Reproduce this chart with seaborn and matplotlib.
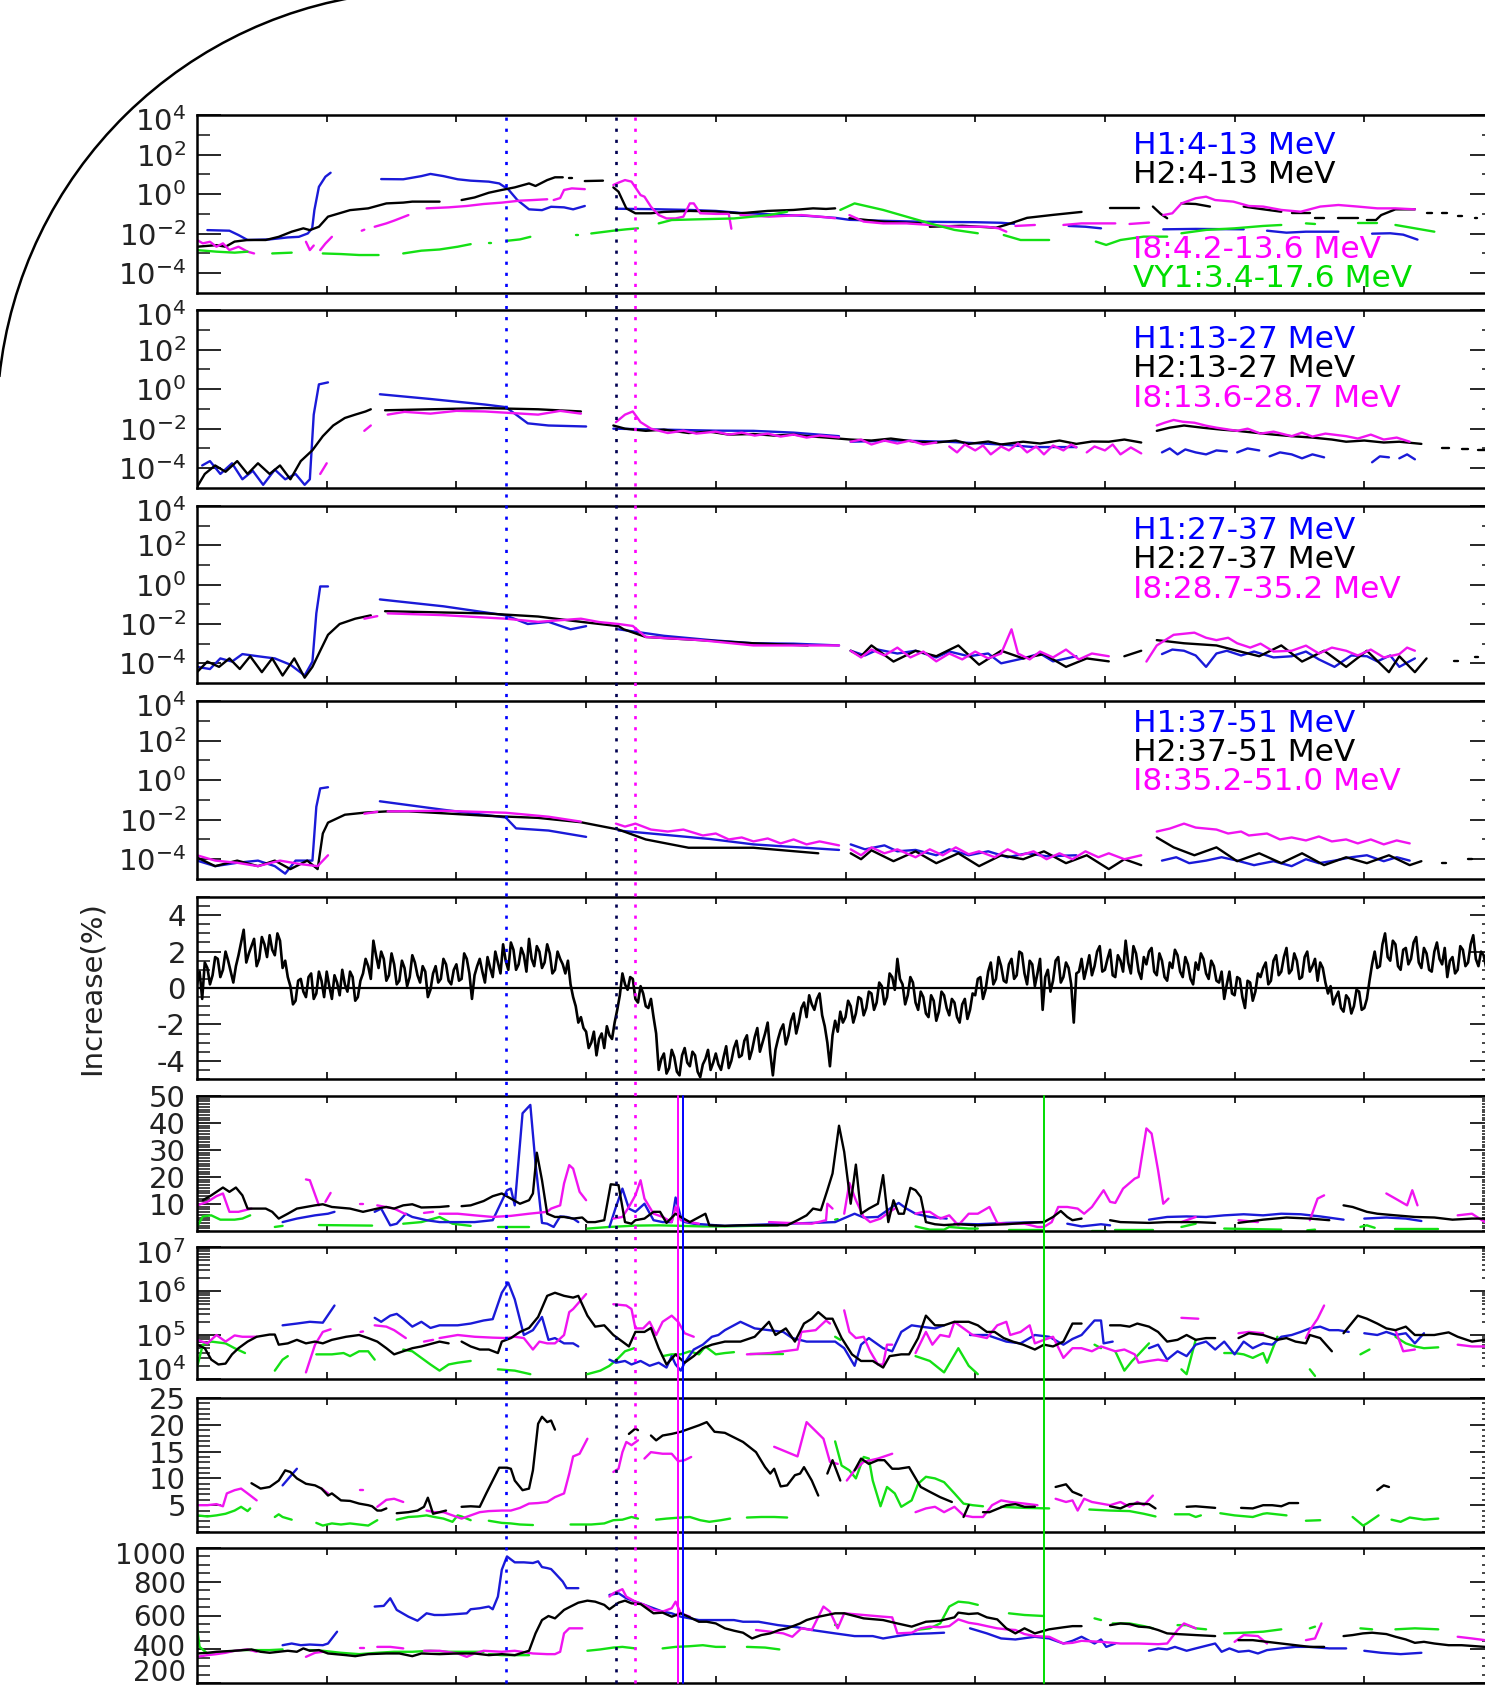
import numpy as np
import matplotlib
matplotlib.use("Agg")
import matplotlib.pyplot as plt
import seaborn as sns
import matplotlib.transforms as mtransforms
from matplotlib.ticker import (FixedLocator, MultipleLocator, LogLocator,
                               NullFormatter, LogFormatterMathtext)
from matplotlib.patches import Arc
from matplotlib.lines import Line2D

N = None  # gap marker in a series

# ---------------- colours ----------------
C_BLUE = "#1a1ad8"
C_BLACK = "#000000"
C_MAG = "#f014f0"
C_GREEN = "#14e014"

# ---------------- panel 1 (log10 flux) 4-13 MeV ----------------
P1_H1 = [(0.08,-1.82),(0.25,-1.85),(0.32,-2.07),(0.39,-2.32),(0.56,-2.29),(0.70,-2.19),(0.785,-2.16),(0.854,-1.99),(0.888,-1.73),(0.905,-0.81),(0.94,0.37),(0.99,0.88),(1.03,1.08),N,
         (1.42,0.76),(1.59,0.75),(1.73,0.91),(1.80,1.02),(1.90,0.91),(2.01,0.75),(2.11,0.68),(2.25,0.63),(2.33,0.54),(2.40,0.24),(2.47,-0.30),(2.56,-0.77),(2.66,-0.81),(2.73,-0.64),(2.83,-0.67),(2.90,-0.77),(2.99,-0.60),N,
         (3.23,-0.74),(3.5,-0.76),(3.8,-0.8),(4.0,-0.85),(4.19,-0.95),(4.5,-1.05),(4.7,-1.1),(4.92,-1.2),(5.03,-1.3),(5.3,-1.35),(5.6,-1.4),(6.0,-1.42),(6.2,-1.45),(6.3,-1.5),N,
         (6.72,-1.61),(6.85,-1.65),(6.97,-1.73),N,(7.45,-1.78),(7.7,-1.76),(8.07,-1.78),N,
         (8.25,-1.85),(8.4,-1.95),(8.55,-1.9),(8.80,-1.9),N,(9.06,-2.0),(9.2,-1.98),(9.3,-2.05),(9.41,-2.3)]
P1_H2 = [(0,-2.66),(0.15,-2.58),(0.22,-2.66),(0.29,-2.4),(0.39,-2.32),(0.53,-2.32),(0.63,-2.16),(0.73,-1.90),(0.82,-1.73),(0.87,-1.82),(0.94,-1.65),(1.01,-1.14),(1.18,-0.81),(1.32,-0.72),(1.46,-0.47),(1.59,-0.43),(1.66,-0.38),(1.87,-0.38),N,
         (2.04,-0.30),(2.14,-0.17),(2.25,0.07),(2.35,0.21),(2.45,0.34),(2.56,0.54),(2.61,0.41),(2.70,0.71),(2.76,0.85),(2.82,0.85),N,(2.87,0.80),(2.89,0.80),N,
         (2.99,0.66),(3.13,0.68),N,
         (3.21,0.34),(3.25,0.12),(3.28,-0.30),(3.31,-0.72),(3.38,-0.97),(3.5,-0.97),(3.6,-0.9),(3.8,-0.85),(4.0,-0.88),(4.19,-0.97),(4.4,-0.85),(4.6,-0.8),(4.75,-0.72),(4.85,-0.75),(4.92,-0.72),N,
         (5.03,-1.22),(5.3,-1.4),(5.58,-1.48),N,(5.65,-1.65),(5.9,-1.6),(6.16,-1.7),(6.24,-1.55),(6.4,-1.2),(6.6,-1.05),(6.82,-0.9),N,
         (7.04,-0.72),(7.26,-0.72),N,(7.37,-0.63),(7.43,-1.0),(7.48,-1.22),N,(7.59,-0.47),(7.7,-0.5),(7.81,-0.63),N,
         (8.07,-0.63),(8.2,-0.75),(8.36,-0.89),N,(8.44,-0.97),(8.58,-0.97),N,(8.62,-1.22),(8.69,-1.22),N,(8.80,-1.22),(8.95,-1.22),N,
         (9.02,-1.31),(9.09,-1.31),(9.13,-1.06),(9.24,-0.77),(9.39,-0.77),N,(9.48,-0.95),(9.52,-0.95),N,(9.6,-0.98),(9.64,-0.98),N,
         (9.72,-1.1),(9.75,-1.1),N,(9.85,-1.2),(9.87,-1.2)]
P1_I8 = [(0,-2.32),(0.045,-2.49),(0.1,-2.41),(0.15,-2.66),(0.2,-2.49),(0.25,-2.83),(0.32,-2.66),(0.39,-2.91),(0.44,-3.0),N,
         (0.84,-2.41),(0.87,-2.83),(0.90,-2.6),N,(0.95,-2.83),(0.99,-2.5),(1.04,-2.16),N,(1.27,-1.85),(1.29,-1.80),N,
         (1.37,-1.65),(1.46,-1.48),(1.52,-1.34),(1.63,-1.06),N,
         (1.77,-0.72),(1.94,-0.67),(2.08,-0.60),(2.21,-0.50),(2.35,-0.43),(2.49,-0.33),(2.59,-0.30),(2.70,-0.26),N,(2.75,-0.3),(2.80,-0.2),(2.83,0.21),(2.89,0.29),(2.99,0.25),N,
         (3.21,0.46),(3.25,0.58),(3.30,0.71),(3.35,0.63),(3.38,0.34),(3.42,-0.05),(3.45,-0.13),(3.50,-0.64),(3.56,-1.06),(3.62,-1.23),(3.69,-1.23),(3.75,-1.14),(3.80,-0.47),(3.83,-0.47),(3.88,-0.97),(4.0,-1.0),(4.1,-1.0),(4.12,-1.75),N,
         (4.19,-1.06),(4.41,-1.14),(4.66,-1.06),(4.85,-1.17),(4.92,-1.22),N,
         (5.03,-1.06),(5.14,-1.39),(5.29,-1.48),(5.47,-1.48),(5.65,-1.56),(5.87,-1.65),(6.09,-1.65),(6.18,-1.73),(6.24,-1.90),N,(6.31,-1.61),(6.46,-1.56),N,
         (6.68,-1.56),(6.82,-1.48),(7.08,-1.48),N,(7.19,-1.51),(7.34,-1.44),N,
         (7.45,-1.06),(7.52,-0.97),(7.59,-0.47),(7.70,-0.21),(7.78,-0.13),(7.85,-0.30),(7.99,-0.38),(8.11,-0.60),(8.22,-0.63),(8.36,-0.80),(8.51,-0.89),(8.66,-0.63),(8.80,-0.55),(8.95,-0.63),(9.10,-0.72),(9.24,-0.72),(9.39,-0.77)]
P1_VY1 = [(0,-2.83),(0.15,-2.91),(0.29,-2.96),(0.39,-2.91),N,(0.58,-3.0),(0.73,-2.96),N,(0.97,-3.0),(1.11,-3.03),(1.25,-3.08),(1.40,-3.08),N,
          (1.59,-3.0),(1.73,-2.86),(1.87,-2.80),(2.01,-2.66),(2.11,-2.53),N,(2.25,-2.49),(2.27,-2.49),N,(2.39,-2.36),(2.49,-2.29),(2.57,-2.16),N,
          (2.92,-2.07),(2.94,-2.07),N,(3.04,-1.99),(3.21,-1.85),(3.31,-1.78),(3.40,-1.73),N,
          (3.56,-1.48),(3.66,-1.31),(3.83,-1.28),(4.14,-1.23),(4.41,-1.06),(4.55,-0.89),N,
          (4.96,-0.80),(5.07,-0.47),(5.29,-0.80),(5.47,-1.14),(5.65,-1.48),(5.84,-1.81),(6.02,-1.98),N,
          (6.22,-2.07),(6.35,-2.32),(6.57,-2.32),N,(6.93,-2.40),(7.01,-2.57),(7.12,-2.32),(7.30,-2.15),(7.48,-2.15),N,
          (7.59,-1.98),(7.78,-1.81),(8.0,-1.73),(8.22,-1.61),(8.36,-1.56),N,(8.55,-1.48),(8.62,-1.51),N,
          (8.95,-1.48),(9.10,-1.48),N,(9.24,-1.56),(9.39,-1.73),(9.54,-1.90)]

# ---------------- panel 2 (log10 flux) 13-27 MeV ----------------
P2_H1 = [(0.04,-3.86),(0.10,-3.64),(0.18,-4.29),(0.27,-3.75),(0.35,-4.56),(0.43,-4.13),(0.51,-4.84),(0.60,-4.07),(0.68,-4.56),(0.76,-4.29),(0.83,-4.84),(0.87,-4.56),(0.90,-1.29),(0.94,0.24),(1.01,0.34),N,
         (1.41,-0.26),(1.80,-0.5),(2.22,-0.78),(2.38,-0.91),(2.46,-1.29),(2.55,-1.73),(2.71,-1.84),(3.0,-1.89),N,
         (3.21,-2.0),(3.6,-2.05),(4.0,-2.1),(4.29,-2.11),(4.6,-2.2),(4.95,-2.38),N,(5.04,-2.66),(5.4,-2.6),(5.78,-2.66),(6.2,-2.8),(6.45,-2.93),(6.78,-2.93),N,
         (7.44,-3.2),(7.5,-3.0),(7.56,-3.3),(7.62,-3.05),(7.7,-3.2),(7.78,-3.3),(7.86,-3.1),(7.94,-3.15),N,(8.02,-3.2),(8.1,-3.0),(8.19,-3.1),N,
         (8.27,-3.4),(8.35,-3.2),(8.44,-3.3),(8.52,-3.5),(8.6,-3.3),(8.69,-3.45),N,(9.06,-3.7),(9.12,-3.4),(9.19,-3.45),N,(9.27,-3.5),(9.33,-3.3),(9.39,-3.55)]
P2_H2 = [(0,-4.95),(0.06,-4.29),(0.14,-3.86),(0.22,-4.18),(0.31,-3.64),(0.39,-4.29),(0.47,-3.75),(0.56,-4.29),(0.64,-3.86),(0.72,-4.56),(0.80,-3.64),(0.89,-3.09),(0.97,-2.38),(1.05,-1.84),(1.14,-1.46),(1.22,-1.29),(1.30,-1.13),(1.34,-1.02),N,
         (1.45,-1.07),(1.80,-1.02),(2.22,-0.96),(2.63,-1.02),(2.96,-1.13),N,
         (3.21,-1.84),(3.3,-2.0),(3.46,-2.11),(3.6,-2.05),(3.79,-2.22),(3.95,-2.15),(4.1,-2.3),(4.29,-2.27),(4.45,-2.35),(4.6,-2.3),(4.71,-2.38),(4.85,-2.45),(5.04,-2.55),(5.2,-2.6),(5.35,-2.5),(5.54,-2.66),(5.7,-2.7),(5.85,-2.6),(5.95,-2.77),(6.1,-2.65),(6.2,-2.8),(6.37,-2.66),(6.5,-2.75),(6.65,-2.6),(6.78,-2.77),(6.9,-2.65),(7.03,-2.66),(7.15,-2.55),(7.28,-2.7),N,
         (7.40,-2.11),(7.5,-1.95),(7.61,-1.84),(7.75,-1.95),(7.9,-2.05),(8.02,-2.11),(8.15,-2.2),(8.3,-2.3),(8.44,-2.38),(8.6,-2.45),(8.75,-2.55),(8.86,-2.66),(9.0,-2.6),(9.15,-2.7),(9.27,-2.66),(9.44,-2.77),N,
         (9.6,-3.0),(9.65,-3.0),N,(9.75,-3.05),(9.8,-3.05),N,(9.88,-3.1),(9.93,-3.1)]
P2_I8 = [(0.95,-4.29),(1.0,-3.75),N,(1.29,-2.11),(1.34,-1.84),N,
         (1.47,-1.29),(1.6,-1.15),(1.80,-1.24),(2.0,-1.1),(2.22,-1.13),(2.4,-1.2),(2.63,-1.29),(2.8,-1.1),(2.96,-1.24),N,
         (3.23,-1.67),(3.30,-1.29),(3.36,-1.13),(3.42,-1.67),(3.50,-2.0),(3.63,-2.22),(3.75,-2.1),(3.85,-2.25),(4.0,-2.15),(4.1,-2.3),(4.2,-2.2),(4.3,-2.35),(4.4,-2.25),(4.5,-2.4),(4.6,-2.3),(4.7,-2.45),(4.8,-2.35),(4.95,-2.44),N,
         (5.04,-2.66),(5.12,-2.55),(5.2,-2.8),(5.3,-2.6),(5.4,-2.75),(5.5,-2.6),(5.6,-2.8),(5.7,-2.7),N,
         (5.8,-2.9),(5.86,-3.2),(5.92,-2.8),(6.0,-3.1),(6.06,-2.85),(6.12,-3.3),(6.2,-2.9),(6.26,-3.1),(6.33,-2.75),(6.4,-3.2),(6.47,-2.9),(6.53,-3.3),(6.6,-2.85),(6.68,-3.1),(6.74,-2.8),(6.78,-2.95),N,
         (6.86,-3.2),(6.92,-2.9),(7.0,-3.1),(7.06,-2.8),(7.12,-3.3),(7.2,-2.95),(7.28,-3.25),N,
         (7.40,-1.84),(7.46,-1.7),(7.53,-1.56),(7.6,-1.65),(7.69,-1.7),(7.78,-1.85),(7.86,-1.95),(8.02,-2.11),(8.1,-2.0),(8.2,-2.25),(8.3,-2.15),(8.44,-2.38),(8.52,-2.2),(8.6,-2.4),(8.7,-2.25),(8.86,-2.38),(8.95,-2.5),(9.05,-2.3),(9.15,-2.55),(9.25,-2.45),(9.35,-2.66)]

# ---------------- panel 3 (log10 flux) 27-37 MeV ----------------
P3_H1 = [(0,-4.18),(0.10,-4.29),(0.18,-3.75),(0.27,-3.91),(0.35,-3.53),(0.47,-3.64),(0.60,-3.75),(0.72,-4.07),(0.83,-4.62),(0.89,-3.91),(0.92,-1.46),(0.95,-0.09),(1.01,-0.09),N,
         (1.41,-0.75),(1.9,-1.1),(2.38,-1.56),(2.55,-2.0),(2.71,-1.89),(2.88,-2.27),(3.0,-2.11),N,
         (3.25,-2.27),(3.6,-2.6),(3.96,-2.82),(4.29,-2.98),(4.6,-3.0),(4.95,-3.09),N,
         (5.04,-3.36),(5.15,-3.6),(5.25,-3.3),(5.4,-3.5),(5.54,-3.36),(5.7,-3.7),(5.8,-3.4),(5.95,-3.64),(6.1,-3.5),(6.2,-4.0),(6.37,-3.75),(6.5,-3.5),(6.6,-3.9),(6.78,-3.64),N,
         (7.44,-3.53),(7.52,-3.3),(7.61,-3.36),(7.7,-3.6),(7.78,-4.18),(7.86,-3.5),(7.94,-3.36),(8.05,-3.6),(8.15,-3.4),(8.3,-3.7),(8.44,-3.64),(8.55,-3.4),(8.65,-3.8),(8.77,-4.18),(8.9,-3.6),(9.02,-3.64),(9.1,-3.9),(9.2,-3.6),(9.27,-4.18),(9.39,-3.75)]
P3_H2 = [(0,-4.45),(0.08,-3.91),(0.17,-4.18),(0.25,-3.75),(0.33,-4.29),(0.41,-3.64),(0.50,-4.45),(0.58,-3.75),(0.66,-4.62),(0.75,-3.75),(0.83,-4.73),(0.89,-4.18),(0.95,-3.36),(1.01,-2.55),(1.10,-2.0),(1.22,-1.73),(1.34,-1.56),N,
         (1.45,-1.35),(2.22,-1.46),(2.63,-1.62),(2.96,-1.89),(3.25,-2.11),(3.29,-2.27),(3.46,-2.66),(3.88,-2.82),(4.29,-2.98),(4.71,-3.09),N,
         (5.04,-3.36),(5.12,-3.64),(5.20,-3.09),(5.37,-3.91),(5.54,-3.36),(5.70,-3.64),(5.87,-3.09),(6.03,-4.07),(6.20,-3.36),(6.37,-3.75),(6.53,-3.53),(6.70,-4.18),(6.86,-3.75),(7.03,-3.9),N,
         (7.15,-3.64),(7.28,-3.36),N,
         (7.40,-2.82),(7.61,-2.98),(7.86,-3.09),(8.02,-3.36),(8.19,-3.64),(8.36,-3.09),(8.52,-3.91),(8.69,-3.36),(8.86,-4.18),(9.02,-3.36),(9.19,-4.45),(9.27,-3.64),(9.39,-4.45),(9.48,-3.75),N,
         (9.69,-3.9),(9.72,-3.9),N,(9.85,-3.7),(9.88,-3.7)]
P3_I8 = [(1.29,-1.73),(1.39,-1.6),N,
         (1.47,-1.46),(1.9,-1.55),(2.38,-1.73),(2.63,-1.89),(2.96,-1.73),(3.1,-1.9),(3.25,-2.0),(3.36,-2.1),(3.46,-2.66),(3.88,-2.82),(4.29,-3.09),(4.95,-3.09),N,
         (5.04,-3.36),(5.12,-3.7),(5.2,-3.3),(5.3,-3.6),(5.4,-3.2),(5.5,-3.7),(5.6,-3.4),(5.7,-3.9),(5.8,-3.5),(5.9,-3.8),(6.0,-3.4),(6.1,-3.75),(6.2,-3.5),(6.28,-2.27),(6.33,-3.5),(6.42,-3.8),(6.5,-3.4),(6.6,-3.7),(6.7,-3.3),(6.8,-3.8),(6.9,-3.5),(7.03,-3.64),N,
         (7.32,-3.91),(7.40,-3.09),(7.53,-2.55),(7.69,-2.44),(7.78,-2.7),(7.86,-2.82),(7.95,-2.7),(8.02,-2.98),(8.12,-3.2),(8.2,-3.0),(8.3,-3.4),(8.44,-3.36),(8.55,-3.1),(8.65,-3.5),(8.75,-3.2),(8.86,-3.36),(8.95,-3.6),(9.05,-3.3),(9.15,-3.7),(9.27,-3.53),(9.33,-3.2),(9.39,-3.36)]

# ---------------- panel 4 (log10 flux) 37-51 MeV ----------------
P4_H1 = [(0,-4.07),(0.14,-4.35),(0.31,-4.18),(0.47,-4.07),(0.60,-4.35),(0.68,-4.73),(0.76,-4.07),(0.89,-4.07),(0.92,-1.35),(0.95,-0.42),(1.01,-0.36),N,
         (1.41,-1.07),(1.9,-1.5),(2.38,-1.89),(2.46,-2.44),(2.71,-2.55),(3.0,-2.87),N,
         (3.25,-2.55),(3.96,-2.98),(4.29,-3.25),(4.95,-3.53),N,
         (5.04,-3.25),(5.15,-3.5),(5.3,-3.3),(5.4,-3.6),(5.54,-3.53),(5.7,-3.8),(5.8,-3.5),(5.95,-3.8),(6.1,-3.6),(6.25,-3.9),(6.4,-3.7),(6.55,-3.85),(6.78,-3.8),N,
         (7.44,-4.07),(7.55,-3.9),(7.65,-4.2),(7.78,-4.07),(7.9,-3.9),(8.02,-4.07),(8.15,-4.3),(8.3,-4.1),(8.44,-4.35),(8.55,-4.0),(8.65,-4.2),(8.77,-4.07),(8.9,-3.9),(9.02,-3.8),(9.15,-4.1),(9.25,-3.9),(9.35,-4.07)]
P4_H2 = [(0,-3.91),(0.14,-4.35),(0.31,-4.07),(0.47,-4.35),(0.60,-4.07),(0.72,-4.5),(0.85,-4.07),(0.93,-4.5),(0.97,-2.7),(1.01,-2.15),(1.14,-1.75),(1.30,-1.64),(1.47,-1.58),(1.63,-1.58),(1.80,-1.64),(2.22,-1.8),(2.63,-1.91),(2.96,-2.13),(3.25,-2.5),(3.46,-3.0),(3.79,-3.42),(4.29,-3.42),(4.79,-3.7),N,
         (5.04,-3.7),(5.12,-4.0),(5.20,-3.55),(5.37,-4.1),(5.54,-3.6),(5.70,-4.2),(5.87,-3.7),(6.03,-4.35),(6.20,-3.8),(6.37,-4.0),(6.53,-3.6),(6.70,-4.2),(6.86,-3.8),(7.03,-4.5),(7.15,-4.0),(7.28,-4.3),N,
         (7.40,-2.9),(7.53,-3.4),(7.69,-3.8),(7.86,-3.4),(8.02,-4.1),(8.19,-3.7),(8.36,-4.2),(8.52,-3.7),(8.69,-4.3),(8.86,-3.9),(9.02,-4.2),(9.19,-3.8),(9.35,-4.3),(9.44,-4.1),N,
         (9.6,-4.2),(9.63,-4.2),N,(9.8,-4.0),(9.83,-4.0)]
P4_I8 = [(0,-3.8),(0.14,-4.07),(0.31,-4.18),(0.47,-4.35),(0.64,-4.07),(0.80,-4.25),(0.93,-4.35),(1.01,-3.8),N,
         (1.29,-1.7),(1.39,-1.6),N,(1.47,-1.58),(1.9,-1.55),(2.38,-1.65),(2.71,-1.85),(2.96,-2.1),N,
         (3.23,-2.2),(3.3,-2.35),(3.38,-2.2),(3.5,-2.5),(3.63,-2.6),(3.75,-2.5),(3.9,-2.8),(4.0,-2.7),(4.1,-3.0),(4.2,-2.9),(4.29,-3.1),(4.4,-2.95),(4.5,-3.2),(4.6,-3.0),(4.7,-3.25),(4.8,-3.1),(4.95,-3.3),N,
         (5.04,-3.5),(5.12,-3.8),(5.2,-3.4),(5.3,-3.7),(5.4,-3.5),(5.54,-3.9),(5.65,-3.5),(5.75,-3.8),(5.85,-3.4),(5.95,-3.75),(6.03,-3.6),(6.15,-3.9),(6.25,-3.5),(6.35,-3.8),(6.45,-3.6),(6.55,-4.0),(6.65,-3.7),(6.75,-4.0),(6.85,-3.6),(6.95,-3.9),(7.03,-3.7),(7.15,-4.0),(7.28,-3.8),N,
         (7.40,-2.6),(7.5,-2.45),(7.61,-2.2),(7.7,-2.4),(7.86,-2.5),(7.95,-2.7),(8.05,-2.6),(8.11,-2.8),(8.25,-2.7),(8.35,-3.0),(8.44,-2.9),(8.55,-3.05),(8.65,-2.85),(8.75,-3.1),(8.86,-3.0),(8.95,-3.2),(9.05,-3.0),(9.15,-3.25),(9.25,-3.05),(9.35,-3.2)]

# ---------------- panel 5: cosmic-ray increase (%) ----------------
CR_T0 = 0.0
CR_DT = 0.02
CR_INCREASE = [
    0.2, 0.9, -0.6, 1.4, 1.1, 0.2, 0.7, 1.7, 1.6, 0.6, 1.0, 2.0, 1.5, 0.9, 0.3, 1.2, 1.8, 2.5, 3.2, 1.4, 1.9, 2.3, 2.7, 1.2, 1.6, 2.8, 2.4, 1.7, 2.9, 2.1, 1.8, 3.0, 2.6, 1.1, 1.5, 0.6, 0.1, -0.9, -0.7, 0.4, 0.5, -0.2, -0.5, 0.6, 0.8, -0.6, -0.3, 0.9, 0.4, -0.5,
    0.9, 0.1, -0.6, 0.7, 0.3, -0.4, 1.0, 0.2, -0.2, 0.9, 0.6, -0.7, -0.5, 0.4, 0.8, 1.6, 1.2, 0.5, 2.6, 1.8, 1.1, 2.0, 1.6, 0.4, 0.7, 1.9, 1.3, 0.2, 0.4, 1.5, 1.1, 0.1, 0.6, 1.8, 1.4, 0.7, 0.3, 1.2, 0.9, -0.5, -0.1, 0.8, 1.2, 0.3, 0.5, 1.6, 1.3, 0.4, 0.2, 1.0,
    1.3, 0.4, 0.5, 1.9, 1.6, 0.8, -0.6, 0.7, 1.2, 1.6, 0.9, 0.3, 1.7, 1.1, 0.6, 2.0, 1.4, 0.8, 2.4, 1.5, 1.0, 2.5, 2.1, 1.0, 1.3, 2.2, 1.8, 0.9, 2.7, 1.6, 1.2, 2.3, 2.0, 1.1, 1.4, 2.4, 1.9, 0.8, 1.0, 2.0, 1.6, 1.3, 0.8, 1.5, 0.2, -0.5, -1.0, -1.9, -1.6, -2.2,
    -2.4, -3.3, -3.0, -2.4, -3.7, -2.8, -2.5, -3.3, -2.1, -2.6, -2.8, -1.9, -1.2, -0.4, 0.8, 0.2, -0.1, 0.6, 0.5, -0.6, -0.8, 0.1, -0.3, -1.0, -1.1, -0.6, -1.6, -2.5, -4.5, -3.9, -3.6, -4.7, -4.4, -3.4, -3.8, -4.6, -4.8, -3.7, -3.3, -4.1, -4.3, -3.5, -3.7, -4.6, -4.9, -4.2, -3.9, -3.4, -4.5, -4.1,
    -3.6, -4.2, -4.5, -3.8, -3.2, -4.4, -4.0, -3.3, -2.9, -3.8, -3.7, -2.9, -2.6, -3.9, -3.4, -2.7, -2.2, -3.5, -3.0, -2.5, -1.9, -3.6, -4.8, -3.4, -2.8, -2.3, -2.0, -3.1, -2.6, -1.8, -1.4, -2.5, -1.9, -1.1, -0.8, -1.6, -0.4, -0.9, -1.2, -0.6, -0.3, -1.5, -2.1, -3.0, -4.3, -2.6, -1.8, -2.4, -1.3, -1.9,
    -1.6, -0.7, -1.0, -1.9, -1.4, -0.5, -0.6, -1.5, -1.1, -0.2, -0.3, -1.2, -0.8, 0.3, 0.1, -0.9, -0.5, 0.8, 0.6, -0.1, 1.6, 0.5, 0.2, -0.9, -0.4, 0.6, 0.3, -0.8, -1.2, -0.2, -0.5, -1.4, -1.6, -0.4, -0.7, -1.8, -1.3, -0.2, -0.4, -1.1, -1.5, -0.6, -0.8, -1.6, -1.9, -0.9, -0.6, -1.7, -1.2, -0.3,
    -0.4, 0.5, 0.6, -0.6, -0.1, 0.9, 1.4, 0.2, 0.5, 1.7, 1.2, 0.4, 0.3, 1.3, 1.6, 0.5, 0.7, 2.0, 1.9, 0.8, 0.2, 1.5, 1.3, 0.1, 0.8, 1.6, -1.2, 0.6, 1.0, -0.2, 0.4, 1.5, 1.7, 0.3, 0.6, 1.4, 1.1, 0.2, -1.9, 0.8, 0.9, 1.6, 0.5, 1.1, 1.8, 0.7, 1.2, 2.0, 2.3, 0.9,
    1.0, 1.6, 2.1, 0.7, 0.6, 1.8, 1.5, 0.9, 2.6, 1.4, 0.8, 2.3, 1.9, 0.9, 0.5, 1.7, 1.3, 2.0, 2.2, 0.9, 0.7, 1.9, 1.5, 0.6, 0.4, 1.4, 1.1, 2.1, 1.8, 0.9, 0.6, 1.7, 1.3, 0.5, 0.2, 1.4, 1.0, 1.9, 1.6, 0.8, 0.5, 1.5, 1.2, 0.4, 0.3, 0.9, -0.6, 0.2, 0.9, -0.3,
    -0.4, 0.6, 0.5, -0.5, -1.1, 0.4, 0.3, -0.7, -0.2, 0.8, 0.6, 1.1, 1.4, 0.2, 0.4, 1.5, 1.8, 0.7, 0.9, 1.7, 2.2, 0.8, 1.0, 1.9, 1.5, 0.5, 0.6, 1.7, 2.0, 0.9, 1.2, 1.6, 0.4, 1.4, 1.1, 0.3, -0.3, 0.1, -0.9, -0.5, -0.2, -1.1, -1.3, -0.4, -0.6, -1.4, -1.0, -0.1, -0.2, -1.2,
    -1.1, -0.6, 0.4, 1.3, 2.0, 1.1, 1.2, 2.4, 3.0, 1.7, 1.5, 2.6, 2.4, 1.2, 1.0, 2.1, 2.2, 1.3, 1.6, 2.5, 2.8, 1.4, 1.1, 2.2, 1.9, 1.0, 0.9, 2.0, 2.5, 1.6, 1.3, 2.2, 0.6, 1.5, 1.7, 0.8, 1.0, 2.3, 2.1, 1.2, 1.4, 2.4, 2.9, 1.6, 1.2, 2.0, 1.8, 1.1, 1.4, 2.2,
    1.5]

# ---------------- panel 6 (0-50) ----------------
P6_BLACK = [(0.045,11.4),(0.11,13.2),(0.20,16.1),(0.25,14.5),(0.30,16.1),(0.35,13.2),(0.39,8.3),(0.46,8.3),(0.53,8.3),(0.58,7.1),(0.63,4.6),(0.70,6.4),(0.77,8.3),(0.84,8.9),(0.91,9.5),(0.97,9.9),(1.04,8.9),(1.18,8.3),(1.28,7.1),(1.39,8.3),(1.46,8.9),(1.52,8.3),(1.59,9.5),(1.66,9.9),(1.73,8.7),(1.87,8.9),(1.94,9.2),N,
            (2.04,9.2),(2.11,9.5),(2.21,11.1),(2.28,12.9),(2.35,13.9),(2.42,12.0),(2.49,10.1),(2.56,11.4),(2.59,13.9),(2.62,29.0),(2.66,18.8),(2.70,6.4),(2.76,5.2),(2.83,5.2),(2.90,4.6),(2.97,5.0),(3.01,3.3),(3.07,3.3),(3.14,4.0),(3.19,17.3),(3.25,17.0),(3.30,3.3),(3.35,2.7),(3.38,4.0),(3.45,4.6),(3.52,7.1),(3.57,7.1),(3.62,3.0),(3.69,6.4),(3.73,5.2),(3.80,3.3),(3.92,6.4),(3.95,2.1),(4.07,1.9),
            (4.19,2.1),(4.55,2.1),(4.63,4.0),(4.70,5.8),(4.75,8.3),(4.81,7.7),(4.86,15.1),(4.90,21.3),(4.95,39.0),(4.99,29.3),(5.04,10.1),(5.08,24.6),(5.12,6.4),(5.18,8.3),(5.25,10.1),(5.29,20.7),(5.33,3.3),(5.37,11.4),(5.41,6.4),(5.45,6.4),(5.50,16.0),(5.54,15.1),(5.58,12.6),(5.62,3.3),(5.69,2.5),(5.76,2.2),(5.87,2.5),(6.02,2.1),(6.24,2.5),(6.38,3.0),(6.53,3.3),(6.60,5.2),(6.66,7.4),(6.71,5.2),(6.75,4.0),(6.82,4.6),N,
            (7.04,4.0),(7.12,3.3),(7.34,3.0),(7.48,3.3),(7.70,3.3),(7.85,3.0),N,(8.03,3.0),(8.22,4.2),(8.40,5.0),(8.58,4.6),(8.73,4.0),N,
            (8.84,9.5),(8.91,8.9),(9.02,7.1),(9.10,6.4),(9.24,5.8),(9.39,5.2),(9.54,5.0),(9.68,4.2),(9.83,4.6),(10.0,4.6)]
P6_BLUE = [(0.66,3.3),(0.77,4.6),(0.91,5.8),(1.01,6.4),(1.06,7.1),N,
           (1.37,7.1),(1.42,8.3),(1.49,2.1),(1.54,2.7),(1.61,6.4),(1.66,5.2),(1.77,4.0),(1.87,3.3),(2.01,3.3),(2.14,3.3),(2.28,4.0),(2.39,15.1),(2.42,15.7),(2.45,9.5),(2.51,43.6),(2.57,46.7),(2.61,25.0),(2.66,3.0),(2.70,2.7),(2.75,1.5),(2.80,5.4),(2.85,5.2),(2.90,4.6),(2.94,3.3),N,
           (3.18,1.5),(3.23,8.9),(3.28,15.7),(3.33,8.3),(3.38,7.1),(3.45,10.1),(3.52,4.0),(3.59,3.3),(3.66,3.3),(3.69,12.4),(3.73,5.2),(3.76,3.3),(3.83,2.7),(4.07,1.9),
           (4.19,2.1),(4.55,2.7),(4.74,3.0),(4.92,3.3),(5.07,6.4),(5.14,5.0),(5.25,5.2),(5.36,8.9),(5.41,10.4),(5.47,8.3),(5.54,6.4),(5.65,5.2),(5.78,4.6),N,
           (5.84,2.7),(6.02,2.5),(6.24,3.0),(6.53,3.3),N,(6.71,2.7),(6.82,1.7),(6.97,2.5),(7.04,2.1),N,
           (7.34,4.2),(7.48,5.2),(7.63,5.4),(7.78,5.2),(7.92,5.8),(8.07,6.2),(8.22,5.8),(8.36,6.4),(8.51,6.2),(8.66,5.4),(8.84,4.2),N,
           (9.0,4.6),(9.17,5.0),(9.32,4.6),(9.44,3.7)]
P6_MAG = [(0,9.5),(0.08,10.8),(0.15,12.9),(0.20,13.9),(0.25,7.1),(0.32,7.1),(0.42,8.3),N,
          (0.84,19.1),(0.87,18.8),(0.94,9.5),N,(0.99,10.8),(1.03,14.1),N,(1.26,10.1),(1.28,10.1),N,
          (1.39,9.5),(1.52,8.3),(1.61,6.2),N,(1.75,6.7),(1.82,7.1),N,
          (1.87,6.4),(2.01,6.4),(2.14,5.8),(2.28,5.2),(2.42,5.6),(2.56,6.4),(2.70,7.1),(2.73,8.3),(2.80,9.5),(2.83,17.6),(2.87,24.4),(2.90,23.1),(2.95,14.5),(3.0,11.4),N,
          (3.21,4.6),(3.28,5.2),(3.33,8.9),(3.38,13.2),(3.42,18.8),(3.45,12.0),(3.52,6.4),(3.59,5.2),(3.66,3.3),(3.69,8.9),(3.73,4.0),(3.80,3.3),(3.87,2.7),N,
          (4.41,3.3),(4.55,3.0),(4.74,2.7),(4.85,4.0),(4.86,10.1),(4.90,8.3),N,
          (4.99,6.4),(5.03,17.8),(5.08,11.4),(5.14,5.2),(5.19,3.3),(5.27,4.6),(5.34,7.1),(5.38,8.3),N,
          (5.54,6.4),(5.60,7.1),(5.65,7.1),(5.73,4.6),(5.80,5.8),(5.87,2.1),(5.95,6.4),(6.02,6.4),(6.11,8.9),(6.17,3.0),(6.24,2.7),(6.38,2.7),(6.48,1.5),(6.53,1.5),(6.59,3.3),(6.64,8.9),(6.71,8.9),(6.79,8.3),(6.84,6.4),(6.90,8.9),(6.99,15.1),(7.04,10.8),(7.08,10.4),(7.14,15.7),(7.23,19.4),(7.26,20.0),(7.32,38.0),(7.36,36.1),(7.41,22.5),(7.45,10.1),(7.49,12.0),N,
          (7.59,3.3),(7.70,5.2),N,(8.03,4.0),(8.18,3.3),N,(8.58,4.0),(8.64,12.0),(8.69,13.2),N,
          (9.17,13.9),(9.24,12.0),(9.33,9.5),(9.37,15.1),(9.41,9.5),N,(9.72,5.8),(9.83,6.4),(9.93,3.3)]
P6_GREEN = [(0,1.5),(0.045,5.4),(0.11,5.8),(0.18,4.2),(0.29,4.2),(0.35,4.6),(0.41,5.8),N,(0.60,1.5),(0.66,1.9),N,
            (0.94,2.2),(1.35,2.0),N,(1.59,2.7),(1.73,3.3),(1.87,5.2),(1.97,2.7),(2.11,1.9),N,(2.32,1.5),(2.56,1.5),N,
            (3.01,0.9),(3.18,1.5),(3.38,2.0),(3.56,2.1),(3.73,1.9),(3.90,1.7),(4.07,1.7),(4.26,1.9),(4.48,2.1),N,
            (4.92,4.2),(4.94,4.4),N,(5.54,1.7),(5.65,0.5),(5.76,0.5),(5.80,1.5),(5.95,0.9),(6.02,0.9),N,
            (6.26,0.5),(6.53,0.5),N,(6.90,0.1),(7.01,0.1),N,(7.08,0.25),(7.37,0.25),N,(7.59,1.5),(7.70,2.7),N,
            (7.92,0.9),(8.36,0.5),N,(8.56,0.25),(8.62,0.5),N,(8.97,1.5),(9.02,2.1),(9.08,1.2),N,(9.24,0.9),(9.57,0.9)]

# ---------------- panel 7 (log10, 1e4-1e7) ----------------
P7_BLACK = [(0,4.78),(0.06,4.70),(0.11,4.44),(0.165,4.33),(0.22,4.35),(0.27,4.56),(0.32,4.70),(0.39,4.85),(0.46,4.96),(0.56,5.01),(0.60,5.01),(0.63,4.78),(0.70,4.81),(0.77,4.89),(0.84,4.81),(0.91,4.85),(0.97,4.81),(1.04,4.89),(1.15,4.96),(1.25,5.0),(1.32,4.93),(1.39,4.85),(1.46,4.70),(1.52,4.56),(1.59,4.63),(1.66,4.70),(1.73,4.74),(1.87,4.85),(1.94,4.81),N,
            (2.04,4.85),(2.11,4.74),(2.18,4.67),(2.25,4.67),(2.32,4.59),(2.35,4.85),(2.42,4.93),(2.49,5.07),(2.56,5.16),(2.63,5.41),(2.70,5.89),(2.76,5.96),(2.83,5.89),(2.90,5.85),(2.94,5.89),(3.01,5.44),(3.07,5.19),(3.14,5.22),(3.21,5.0),(3.28,4.85),(3.33,4.74),(3.38,5.07),(3.45,5.07),(3.50,5.16),(3.56,4.70),(3.62,4.33),(3.69,4.56),(3.76,4.37),(3.83,4.52),(3.90,4.70),(3.97,4.78),(4.07,4.85),
            (4.19,4.85),(4.30,4.96),(4.41,5.30),(4.46,5.0),(4.54,5.15),(4.61,4.85),(4.68,5.26),(4.74,5.37),(4.79,5.52),(4.85,5.37),(4.90,5.37),(4.97,4.93),(5.05,4.56),(5.12,4.41),(5.21,4.41),(5.29,4.26),(5.34,4.52),(5.43,4.56),(5.49,4.56),(5.56,4.93),(5.62,5.44),(5.69,5.22),(5.76,5.22),(5.84,5.30),(5.95,5.30),(6.02,5.22),(6.09,5.07),(6.15,5.07),(6.22,4.93),(6.29,4.85),(6.37,4.78),(6.46,4.67),(6.53,4.78),(6.60,4.74),(6.68,4.85),(6.75,5.26),(6.82,5.26),N,
            (7.04,5.22),(7.12,5.22),(7.19,5.19),(7.25,5.26),(7.34,5.19),(7.41,5.07),(7.48,4.85),(7.56,4.89),(7.63,5.0),(7.70,4.89),(7.78,4.93),(7.85,4.93),N,
            (8.03,4.93),(8.11,5.04),(8.22,5.0),(8.33,4.89),(8.40,4.93),(8.47,4.85),(8.55,4.81),(8.58,5.0),(8.66,4.93),(8.75,4.63),N,
            (8.84,5.04),(8.95,5.44),(9.02,5.37),(9.10,5.26),(9.17,5.15),(9.24,5.11),(9.32,5.19),(9.39,5.0),(9.46,5.0),(9.54,5.0),(9.65,5.06),(9.72,4.96),(9.83,4.85),(9.93,4.89),(10.0,4.9)]
P7_BLUE = [(0.66,5.22),(0.77,5.26),(0.87,5.30),(0.97,5.28),(1.06,5.67),N,
           (1.37,5.39),(1.42,5.30),(1.49,5.44),(1.54,5.48),(1.59,5.37),(1.66,5.19),(1.73,5.30),(1.80,5.16),(1.87,5.22),(2.01,5.22),(2.11,5.26),(2.21,5.33),(2.28,5.36),(2.35,5.96),(2.40,6.19),(2.45,5.81),(2.52,5.0),(2.59,5.11),(2.66,5.41),(2.71,4.89),(2.76,4.93),(2.83,4.81),(2.90,4.81),(2.94,4.74),N,
           (3.18,4.44),(3.23,4.37),(3.30,4.41),(3.35,4.33),(3.42,4.41),(3.49,4.30),(3.56,4.37),(3.62,4.26),(3.66,4.52),(3.69,4.33),(3.73,4.19),(3.76,4.37),(3.83,4.67),(3.90,4.78),(3.97,4.96),(4.02,5.0),(4.07,5.11),
           (4.19,5.30),(4.30,5.15),(4.41,5.11),(4.52,5.07),(4.59,4.93),(4.70,4.85),(4.92,4.85),(4.99,4.70),(5.07,4.30),(5.12,4.78),(5.18,4.93),(5.29,4.70),(5.36,4.63),(5.43,5.07),(5.51,5.22),(5.58,5.19),(5.69,5.15),(5.76,5.22),N,
           (5.96,5.0),(6.09,5.0),(6.24,4.85),(6.35,4.81),(6.46,5.0),(6.57,4.96),(6.68,4.78),(6.75,4.91),(6.82,5.0),(6.92,5.33),(6.97,5.33),(6.99,4.81),(7.06,4.85),N,
           (7.34,4.70),(7.41,4.78),(7.48,4.44),(7.56,4.63),(7.63,4.52),(7.70,4.78),(7.78,4.85),(7.85,4.67),(7.92,4.85),(8.0,4.56),(8.07,4.85),(8.14,4.70),(8.22,4.81),(8.29,4.78),(8.36,4.96),(8.44,5.0),(8.51,5.07),(8.58,5.15),(8.66,5.19),(8.73,5.11),(8.80,5.11),(8.88,5.07),N,
           (9.0,5.04),(9.10,5.0),(9.17,5.07),(9.24,5.0),(9.32,5.04),(9.39,4.81),(9.46,5.04)]
P7_MAG = [(0,4.89),(0.08,4.81),(0.15,5.0),(0.22,4.85),(0.29,4.99),(0.35,4.96),(0.46,4.96),N,
          (0.84,4.15),(0.91,4.78),(0.97,5.07),(1.03,5.13),N,(1.26,5.07),(1.28,5.08),N,
          (1.37,5.22),(1.46,5.19),(1.52,5.11),(1.61,4.93),N,(1.75,4.85),(1.82,4.89),N,
          (1.87,4.93),(2.01,5.0),(2.14,4.96),(2.28,4.94),(2.39,4.93),(2.45,4.96),(2.52,4.93),(2.59,4.67),(2.64,4.85),(2.70,4.81),(2.76,4.81),(2.83,5.0),(2.87,5.52),(2.90,5.59),(3.0,5.93),N,
          (3.21,5.70),(3.31,5.67),(3.35,5.59),(3.38,5.15),(3.44,5.15),(3.49,5.30),(3.54,5.0),(3.59,5.30),(3.66,5.44),(3.71,5.30),(3.76,5.04),(3.83,4.96),N,
          (4.24,4.56),(4.42,4.59),(4.55,4.64),(4.63,4.67),(4.66,5.07),(4.77,5.11),(4.85,5.33),(4.88,5.26),N,
          (4.99,5.56),(5.03,5.07),(5.08,4.93),(5.14,4.96),(5.19,4.63),(5.25,4.33),(5.29,4.33),(5.32,4.78),(5.36,4.78),N,
          (5.54,4.59),(5.62,5.07),(5.67,4.78),(5.73,5.0),(5.80,4.96),(5.84,5.30),(5.91,5.15),(5.98,5.0),(6.09,4.93),(6.17,5.22),(6.24,5.30),(6.27,5.0),(6.35,5.07),(6.42,5.22),(6.46,4.81),(6.53,4.89),(6.60,4.96),(6.68,4.48),(6.75,4.70),(6.82,4.70),(6.90,4.63),(6.97,4.74),(7.08,4.63),(7.15,4.67),(7.23,4.56),(7.26,4.37),(7.34,4.41),(7.41,4.44),(7.48,4.41),N,
          (7.59,5.39),(7.72,5.37),N,(8.03,5.04),(8.11,5.07),(8.22,5.04),N,(8.55,4.93),(8.58,5.11),(8.64,5.37),(8.69,5.67),N,
          (9.24,5.11),(9.30,4.63),(9.39,4.67),N,(9.72,4.78),(9.83,4.74),(9.93,4.74),(10.0,4.72)]
P7_GREEN = [(0,4.26),(0.045,4.78),(0.11,4.85),(0.22,4.81),(0.29,4.70),(0.37,4.59),N,(0.60,4.19),(0.66,4.44),(0.70,4.52),N,
            (0.92,4.56),(1.04,4.56),(1.13,4.59),(1.18,4.52),(1.25,4.63),(1.32,4.63),(1.37,4.44),N,
            (1.59,4.67),(1.66,4.63),(1.73,4.48),(1.80,4.33),(1.87,4.19),(1.94,4.33),(2.01,4.37),(2.11,4.41),N,
            (2.32,4.22),(2.45,4.19),(2.57,4.11),N,(3.01,4.11),(3.11,4.19),(3.18,4.30),(3.25,4.48),(3.30,4.63),(3.37,4.70),N,
            (3.59,4.52),(3.66,4.56),(3.73,4.56),(3.80,4.63),(3.87,4.56),(3.92,4.74),(4.0,4.56),(4.07,4.59),(4.14,4.61),N,
            (4.26,4.56),(4.52,4.56),N,(4.92,4.96),(4.96,4.89),N,(5.54,4.52),(5.65,4.41),(5.76,4.15),(5.87,4.70),(5.95,4.30),(6.02,4.11),N,
            (6.92,4.78),(6.97,4.70),N,(7.08,4.63),(7.15,4.19),(7.21,4.41),(7.26,4.56),(7.34,4.81),N,
            (7.59,4.22),(7.63,4.11),(7.70,4.89),N,(7.92,4.59),(8.0,4.59),(8.07,4.56),(8.14,4.48),(8.22,4.59),(8.25,4.37),(8.33,4.96),N,
            (8.58,4.22),(8.62,4.07),N,(8.97,4.56),(9.04,4.67),N,(9.24,4.96),(9.32,4.81),(9.39,4.74),(9.46,4.70),(9.57,4.72)]

# ---------------- panel 8 (0-25) ----------------
P8_BLACK = [(0.42,9.1),(0.49,8.1),(0.56,8.4),(0.63,9.6),(0.68,11.5),(0.72,11.2),(0.77,10.0),(0.84,9.0),(0.91,8.7),(0.96,8.1),(1.01,6.8),(1.04,7.2),(1.11,5.9),(1.18,5.8),(1.25,5.3),(1.32,5.0),(1.35,4.8),(1.39,4.0),(1.42,4.0),(1.46,4.4),N,
            (1.54,3.5),(1.63,3.7),(1.70,4.0),(1.75,4.7),(1.78,6.4),(1.82,3.4),(1.87,3.7),(1.92,4.0),N,
            (2.04,4.7),(2.11,4.8),(2.18,4.7),(2.23,7.2),(2.28,9.6),(2.33,12.0),(2.39,12.0),(2.42,11.8),(2.45,9.6),(2.51,7.8),(2.56,8.1),(2.59,11.5),(2.63,20.2),(2.66,21.5),(2.70,20.5),(2.73,20.8),(2.76,19.1),N,
            (3.33,18.3),(3.38,19.3),(3.40,19.0),N,
            (3.50,18.0),(3.54,17.1),(3.59,18.0),(3.66,18.3),(3.73,18.7),(3.80,19.3),(3.87,19.9),(3.93,20.5),(3.99,18.7),(4.07,18.5),(4.21,16.8),(4.31,14.9),(4.38,12.1),(4.42,10.9),(4.45,11.8),(4.50,8.5),(4.55,8.7),(4.61,10.6),(4.65,10.9),(4.68,12.1),(4.74,9.6),(4.79,6.8),N,
            (4.86,10.9),(4.90,13.4),(4.96,9.6),N,
            (5.07,11.5),(5.12,13.7),(5.18,12.7),(5.25,13.4),(5.30,13.4),(5.36,11.8),(5.41,11.8),(5.49,12.1),(5.58,8.4),(5.65,7.5),(5.73,6.5),(5.82,5.6),N,
            (5.91,2.8),(5.95,5.0),N,(6.06,3.7),(6.11,3.7),(6.18,4.4),(6.24,5.0),(6.31,5.2),(6.38,4.7),(6.46,4.7),N,
            (6.62,8.4),(6.70,8.9),(6.75,7.5),(6.82,6.8),N,(7.04,4.8),(7.12,4.4),(7.19,5.2),(7.26,5.3),(7.34,5.2),(7.39,4.4),N,
            (7.63,4.7),(7.70,4.8),(7.85,4.5),N,(8.05,4.5),(8.14,4.4),(8.22,5.0),(8.29,5.0),(8.36,4.8),(8.42,5.4),(8.49,5.4),N,
            (9.10,7.8),(9.15,8.7),(9.19,8.4)]
P8_BLUE = [(0.66,8.7),(0.77,11.8)]
P8_MAG = [(0,5.0),(0.08,5.0),(0.15,5.2),(0.20,4.8),(0.23,7.2),(0.29,7.8),(0.34,8.1),(0.39,7.2),(0.46,5.9),N,
          (0.96,8.1),(1.01,7.2),N,(1.26,7.8),(1.28,7.8),N,(1.39,4.7),(1.46,6.0),(1.52,6.2),(1.59,5.6),N,
          (1.77,4.0),(1.83,3.7),(1.90,3.7),(1.97,3.1),(2.04,2.5),(2.11,3.1),(2.18,3.7),(2.25,3.9),(2.35,4.0),(2.42,4.0),(2.49,4.5),(2.56,5.3),(2.63,5.4),(2.70,5.6),(2.76,6.5),(2.83,7.2),(2.87,10.9),(2.90,14.1),(2.95,14.6),(3.01,17.4),N,
          (3.21,11.2),(3.25,11.8),(3.28,14.9),(3.31,16.8),(3.35,16.2),(3.40,17.1),N,
          (3.45,13.7),(3.50,14.9),(3.59,14.6),(3.66,14.6),(3.71,13.2),(3.76,13.4),(3.81,14.0),N,
          (4.45,15.9),(4.55,14.9),(4.63,14.1),(4.70,20.5),(4.83,17.4),(4.88,13.1),(4.94,12.7),N,
          (5.01,9.6),(5.07,11.5),(5.14,13.1),(5.25,13.7),(5.36,14.6),N,
          (5.54,3.7),(5.62,4.4),(5.69,4.7),(5.76,3.7),(5.84,4.7),(5.91,3.1),(5.98,2.8),(6.06,2.8),(6.13,5.0),(6.20,5.9),(6.27,5.6),(6.38,5.3),(6.48,5.0),N,
          (6.62,6.2),(6.70,5.6),(6.75,5.9),(6.79,4.0),(6.84,6.2),(6.90,5.6),(6.97,5.3),(7.04,5.0),(7.12,5.6),(7.19,4.7),(7.25,5.6),(7.30,5.0),(7.37,6.8)]
P8_GREEN = [(0,3.1),(0.08,2.9),(0.15,3.1),(0.22,3.4),(0.29,4.0),(0.34,4.7),(0.39,3.9),(0.41,4.4),N,
            (0.60,2.8),(0.63,3.3),(0.66,2.8),(0.73,2.3),N,
            (0.92,1.7),(0.97,1.2),(1.04,1.6),(1.11,1.4),(1.18,1.6),(1.25,1.4),(1.32,1.2),(1.39,2.2),N,
            (1.54,2.3),(1.63,2.8),(1.70,2.9),(1.77,3.1),(1.83,2.8),(1.90,2.5),(1.97,1.9),(2.01,3.1),(2.04,2.9),(2.11,2.2),N,
            (2.25,2.1),(2.35,1.7),(2.42,1.6),(2.49,1.4),(2.59,1.3),N,
            (2.88,1.4),(3.04,1.4),(3.14,1.6),(3.21,2.2),(3.28,2.3),(3.35,2.8),(3.40,2.5),N,
            (3.54,2.3),(3.62,2.5),(3.73,2.7),(3.80,2.8),(3.88,2.2),(3.95,1.9),(4.04,2.2),(4.11,2.5),N,
            (4.24,2.7),(4.35,2.8),(4.45,2.8),(4.55,2.7),N,
            (4.92,16.9),(4.97,12.4),(5.03,11.5),(5.08,10.0),(5.14,14.0),(5.18,13.7),(5.21,9.6),(5.27,4.8),(5.32,8.4),(5.38,7.2),(5.43,4.7),(5.51,5.9),(5.56,9.0),(5.62,10.3),(5.69,10.0),(5.76,9.3),(5.84,7.2),(5.91,5.3),(5.98,5.0),(6.06,4.8),N,
            (6.20,4.7),(6.38,4.5),(6.57,4.4),N,(6.88,4.2),(7.04,4.0),(7.19,3.9),(7.30,3.4),(7.39,2.9),N,
            (7.54,3.3),(7.65,3.3),(7.70,2.8),(7.74,3.1),N,(7.89,3.5),(8.0,3.1),(8.14,2.8),(8.22,3.4),(8.25,3.5),(8.40,3.1),N,
            (8.55,2.1),(8.66,2.2),N,(8.91,2.8),(8.99,1.2),(9.02,1.6),(9.11,3.1),N,
            (9.21,2.3),(9.28,1.9),(9.35,2.7),(9.46,2.3),(9.57,2.5)]

# ---------------- panel 9 (200-1000) ----------------
P9_BLUE = [(0.66,424),(0.73,434),(0.80,424),(0.87,428),(0.97,424),(1.01,434),(1.08,504),N,
           (1.37,653),(1.44,657),(1.49,702),(1.54,633),(1.63,593),(1.70,569),(1.77,613),(1.83,603),(1.90,603),(2.01,609),(2.08,613),(2.11,637),(2.18,643),(2.25,653),(2.28,637),(2.32,712),(2.35,871),(2.39,950),(2.45,915),(2.52,915),(2.59,911),(2.63,921),(2.66,887),(2.70,881),(2.73,875),(2.76,851),(2.82,801),(2.85,762),(2.94,762),N,
           (3.18,722),(3.25,732),(3.31,702),(3.38,682),(3.45,663),(3.52,643),(3.59,623),(3.66,613),(3.73,593),(3.80,583),(3.87,573),(4.0,573),(4.14,573),(4.21,563),(4.33,563),(4.48,543),(4.63,530),(4.74,514),(4.92,494),(5.07,478),(5.21,478),(5.29,464),(5.40,478),(5.51,490),(5.65,494),(5.76,498),N,
           (5.96,524),(6.09,494),(6.20,464),(6.31,458),(6.46,474),(6.57,464),(6.68,434),(6.75,450),(6.82,474),(6.92,434),(6.97,458),(7.01,414),(7.08,434),N,
           (7.34,391),(7.41,405),(7.48,399),(7.54,414),(7.63,391),(7.70,405),(7.85,434),(7.90,385),(7.96,405),(8.03,385),(8.11,391),(8.18,375),(8.25,395),(8.36,405),(8.47,414),(8.58,414),(8.73,405),(8.86,405),N,
           (9.0,391),(9.13,379),(9.28,371),(9.44,379)]
P9_BLACK = [(0,375),(0.08,379),(0.15,385),(0.29,391),(0.42,399),(0.49,385),(0.56,379),(0.63,385),(0.70,391),(0.77,385),(0.82,405),(0.87,391),(0.94,395),(1.01,375),(1.15,365),(1.22,359),(1.32,371),(1.46,375),(1.56,375),(1.66,359),(1.73,375),(1.87,371),(2.01,375),(2.14,375),(2.25,365),(2.35,371),(2.45,365),(2.56,391),(2.61,494),(2.66,573),(2.71,597),(2.76,583),(2.83,633),(2.88,653),(2.94,676),(3.01,688),(3.07,682),(3.14,663),(3.18,637),(3.25,676),(3.30,688),(3.35,672),(3.42,668),(3.52,613),(3.59,617),(3.66,593),(3.73,613),(3.80,589),(3.87,563),(3.93,563),(4.0,553),(4.07,524),(4.14,510),(4.21,498),(4.28,464),(4.35,484),(4.42,494),(4.49,514),(4.55,524),(4.65,553),(4.70,573),(4.77,589),(4.92,613),(4.99,613),(5.14,583),(5.29,573),(5.40,553),(5.51,534),(5.62,563),(5.73,569),(5.84,589),(5.87,617),(5.95,609),(6.02,613),(6.09,589),(6.17,577),(6.24,524),(6.31,494),(6.38,524),(6.46,494),(6.57,518),(6.68,530),(6.75,537),(6.82,537),N,
            (7.04,543),(7.12,553),(7.19,549),(7.26,534),(7.34,530),(7.41,514),(7.48,494),(7.56,490),(7.70,484),(7.85,478),N,
            (8.03,454),(8.14,454),(8.25,444),(8.36,434),(8.47,424),(8.58,414),(8.69,414),N,
            (8.84,478),(8.91,484),(8.99,494),(9.06,498),(9.17,490),(9.24,474),(9.32,458),(9.39,438),(9.46,444),(9.54,434),(9.65,424),(9.75,424),(9.86,418),(9.93,414),(10.0,412)]
P9_MAG = [(0,355),(0.08,365),(0.15,371),(0.22,379),(0.29,391),(0.39,399),(0.46,385),N,
          (0.84,355),(0.91,379),(0.97,385),N,(1.26,410),(1.29,410),N,(1.39,414),(1.49,414),(1.59,405),N,
          (1.75,391),(1.87,391),(2.01,375),(2.08,355),(2.14,375),(2.21,391),(2.35,385),(2.45,391),(2.59,375),(2.70,371),(2.76,371),(2.80,385),(2.83,494),(2.87,524),(2.97,524),N,
          (3.18,712),(3.21,732),(3.28,756),(3.31,712),(3.38,682),(3.45,663),(3.52,633),(3.59,623),(3.66,643),(3.69,682),(3.73,613),(3.80,593),N,
          (4.31,514),(4.42,504),(4.52,494),(4.59,474),(4.66,524),(4.74,514),(4.83,653),(4.88,623),(4.94,524),(4.99,613),(5.14,603),(5.29,593),(5.36,589),(5.40,494),(5.51,498),(5.58,524),(5.65,534),(5.73,530),(5.80,537),(5.87,577),(5.95,557),(6.02,549),(6.09,537),(6.17,524),(6.24,518),(6.31,514),(6.38,490),(6.46,478),(6.57,474),(6.68,434),(6.75,438),(6.82,450),(6.97,444),(7.12,434),(7.26,434),(7.41,430),(7.48,434),(7.56,514),(7.61,553),(7.67,534),(7.70,524),N,
          (8.0,444),(8.07,484),(8.18,478),(8.25,434),N,(8.55,454),(8.62,464),(8.67,553),N,
          (9.72,474),(9.83,464),(9.93,454),(10.0,452)]
P9_GREEN = [(0,534),(0.02,414),(0.08,375),(0.22,385),(0.35,395),(0.46,395),(0.56,395),(0.66,399),N,
            (0.87,395),(0.97,391),(1.11,379),(1.25,371),(1.39,379),(1.52,385),(1.66,385),(1.80,391),(1.94,385),(2.08,385),(2.21,385),N,
            (2.25,371),(2.35,365),(2.45,365),(2.56,365),N,
            (3.01,391),(3.11,399),(3.21,410),(3.28,414),(3.38,405),N,
            (3.59,405),(3.69,414),(3.80,418),(3.90,424),(4.0,414),(4.07,414),N,(4.24,414),(4.38,410),(4.49,399),N,
            (4.92,543),(4.94,543),N,(5.54,514),(5.65,524),(5.73,553),(5.80,653),(5.87,682),(5.95,676),(6.02,663),N,
            (6.26,613),(6.38,603),(6.53,597),N,(6.92,583),(6.97,573),N,(7.06,553),(7.19,553),(7.30,537),(7.37,524),N,
            (7.56,543),(7.63,543),(7.70,524),(7.78,518),N,(7.92,494),(8.07,498),(8.22,504),(8.36,518),N,
            (8.58,524),(8.62,534),N,(8.97,524),(9.06,518),N,(9.24,518),(9.39,524),(9.57,518)]

# ---------------- event markers and labels ----------------
DOTTED_EVENTS = [(2.38, "#0000ff"), (3.23, "#000050"), (3.375, "#ff00ff")]
SOLID_EVENTS = [(3.71, "#ff00ff"), (3.75, "#0000ff"), (6.53, "#00dd00")]
LEGENDS = [
    [("H1:4-13 MeV", "#0000ff", 0.830), ("H2:4-13 MeV", "#000000", 0.667),
     ("I8:4.2-13.6 MeV", "#ff00ff", 0.242), ("VY1:3.4-17.6 MeV", "#00dd00", 0.079)],
    [("H1:13-27 MeV", "#0000ff", 0.836), ("H2:13-27 MeV", "#000000", 0.673),
     ("I8:13.6-28.7 MeV", "#ff00ff", 0.503)],
    [("H1:27-37 MeV", "#0000ff", 0.861), ("H2:27-37 MeV", "#000000", 0.697),
     ("I8:28.7-35.2 MeV", "#ff00ff", 0.527)],
    [("H1:37-51 MeV", "#0000ff", 0.873), ("H2:37-51 MeV", "#000000", 0.709),
     ("I8:35.2-51.0 MeV", "#ff00ff", 0.545)],
]

# =====================================================================
sns.set_theme(style="white")
plt.rcParams["font.family"] = ["DejaVu Sans"]
plt.rcParams["mathtext.fontset"] = "dejavusans"
plt.rcParams["axes.unicode_minus"] = False

W, H = 1485, 1687
fig = plt.figure(figsize=(W / 100, H / 100), dpi=100)
fig.patch.set_facecolor("white")

PANELS = [(115, 293), (310, 488), (506, 683), (701, 879), (897, 1079),
          (1096, 1231), (1247, 1379), (1398, 1532), (1548, 1683)]
X_LEFT, X_RIGHT = 197, 1494
axes = []
for top, bot in PANELS:
    ax = fig.add_axes([X_LEFT / W, 1 - bot / H, (X_RIGHT - X_LEFT) / W, (bot - top) / H])
    ax.set_facecolor("white")
    axes.append(ax)


def draw(ax, pts, color, lw=1.7, logy=False):
    segs, cur = [], []
    for p in list(pts) + [None]:
        if p is None:
            if len(cur) >= 2:
                segs.append(cur)
            cur = []
        else:
            cur.append(p)
    for s in segs:
        x = np.array([q[0] for q in s], dtype=float)
        y = np.array([q[1] for q in s], dtype=float)
        if logy:
            y = 10.0 ** y
        sns.lineplot(x=x, y=y, ax=ax, color=color, lw=lw, sort=False,
                     estimator=None, errorbar=None, legend=False)


# --- log flux panels 1-4
flux_sets = [
    [(P1_H1, C_BLUE), (P1_H2, C_BLACK), (P1_I8, C_MAG), (P1_VY1, C_GREEN)],
    [(P2_H1, C_BLUE), (P2_H2, C_BLACK), (P2_I8, C_MAG)],
    [(P3_H1, C_BLUE), (P3_H2, C_BLACK), (P3_I8, C_MAG)],
    [(P4_H1, C_BLUE), (P4_H2, C_BLACK), (P4_I8, C_MAG)],
]
for i, series in enumerate(flux_sets):
    ax = axes[i]
    ax.set_yscale("log")
    for pts, col in series:
        draw(ax, pts, col, logy=True)
    ax.set_ylim(1e-5, 1e4)
    ax.yaxis.set_major_locator(FixedLocator([1e-4, 1e-2, 1e0, 1e2, 1e4]))
    ax.yaxis.set_major_formatter(LogFormatterMathtext())
    ax.yaxis.set_minor_locator(FixedLocator([1e-3, 1e-1, 1e1, 1e3]))
    ax.yaxis.set_minor_formatter(NullFormatter())
    for txt, col, yf in LEGENDS[i]:
        ax.text(0.722, yf, txt, transform=ax.transAxes, color=col,
                fontsize=22.5, ha="left", va="center")

# --- panel 5 cosmic ray increase
ax = axes[4]
t_cr = CR_T0 + CR_DT * np.arange(len(CR_INCREASE))
sns.lineplot(x=t_cr, y=np.array(CR_INCREASE), ax=ax, color="black", lw=1.9,
             sort=False, estimator=None, errorbar=None, legend=False)
ax.axhline(0, color="black", lw=1.6)
ax.set_ylim(-5, 5)
ax.yaxis.set_major_locator(FixedLocator([-4, -2, 0, 2, 4]))
ax.yaxis.set_minor_locator(MultipleLocator(0.5))

# --- panel 6
ax = axes[5]
for pts, col in [(P6_GREEN, C_GREEN), (P6_BLUE, C_BLUE), (P6_MAG, C_MAG), (P6_BLACK, C_BLACK)]:
    draw(ax, pts, col)
ax.set_ylim(0, 50)
ax.yaxis.set_major_locator(FixedLocator([10, 20, 30, 40, 50]))
ax.yaxis.set_minor_locator(MultipleLocator(1))

# --- panel 7 (log)
ax = axes[6]
ax.set_yscale("log")
for pts, col in [(P7_GREEN, C_GREEN), (P7_BLUE, C_BLUE), (P7_MAG, C_MAG), (P7_BLACK, C_BLACK)]:
    draw(ax, pts, col, logy=True)
ax.set_ylim(1e4, 1e7)
ax.yaxis.set_major_locator(FixedLocator([1e4, 1e5, 1e6, 1e7]))
ax.yaxis.set_major_formatter(LogFormatterMathtext())
ax.yaxis.set_minor_locator(LogLocator(base=10, subs=np.arange(2, 10), numticks=20))
ax.yaxis.set_minor_formatter(NullFormatter())

# --- panel 8
ax = axes[7]
for pts, col in [(P8_GREEN, C_GREEN), (P8_BLUE, C_BLUE), (P8_MAG, C_MAG), (P8_BLACK, C_BLACK)]:
    draw(ax, pts, col)
ax.set_ylim(0, 25)
ax.yaxis.set_major_locator(FixedLocator([5, 10, 15, 20, 25]))
ax.yaxis.set_minor_locator(MultipleLocator(1))

# --- panel 9
ax = axes[8]
for pts, col in [(P9_GREEN, C_GREEN), (P9_BLUE, C_BLUE), (P9_MAG, C_MAG), (P9_BLACK, C_BLACK)]:
    draw(ax, pts, col)
ax.set_ylim(200, 1000)
ax.yaxis.set_major_locator(FixedLocator([200, 400, 600, 800, 1000]))
ax.yaxis.set_minor_locator(MultipleLocator(50))

# --- common styling
for ax in axes:
    ax.set_xlim(0, 10)
    ax.set_xlabel("")
    ax.set_ylabel("")
    ax.xaxis.set_major_locator(FixedLocator(list(range(1, 10))))
    ax.tick_params(axis="x", which="both", direction="in", top=True, bottom=True,
                   length=5, width=1.4, labelbottom=False, labeltop=False)
    ax.tick_params(axis="y", which="major", direction="in", left=True, right=True,
                   length=17.5, width=1.4, labelsize=21, pad=8, labelcolor="#222222")
    ax.tick_params(axis="y", which="minor", direction="in", left=True, right=True,
                   length=9, width=1.2)
    for sp in ax.spines.values():
        sp.set_visible(True)
        sp.set_linewidth(1.8)
        sp.set_color("black")
axes[8].tick_params(axis="y", which="major", labelsize=20)

# nudge edge tick labels inside their panel, as in the original
def nudge(ax, idx, dy_px):
    t = ax.yaxis.get_major_ticks()[idx]
    t.label1.set_transform(t.label1.get_transform() +
                           mtransforms.ScaledTranslation(0, dy_px / 100, fig.dpi_scale_trans))

for i in range(4):
    nudge(axes[i], 4, -4)
nudge(axes[6], 3, -5)
nudge(axes[6], 0, 10)
nudge(axes[8], 4, -5)
nudge(axes[8], 1, 4)
nudge(axes[8], 0, 13)

fig.text(92 / W, 1 - 988 / H, "Increase(%)", rotation=90, ha="center", va="center",
         fontsize=21, color="#222222")

# --- event lines spanning panels
trans = mtransforms.blended_transform_factory(axes[0].transData, fig.transFigure)
y_top = 1 - PANELS[0][0] / H
y_bot = 1 - PANELS[-1][1] / H
y_top_low = 1 - PANELS[5][0] / H
for xe, col in DOTTED_EVENTS:
    fig.add_artist(Line2D([xe, xe], [y_bot, y_top], transform=trans, color=col,
                          lw=1.9, linestyle=(0, (1.2, 3.0)), zorder=5))
for xe, col in SOLID_EVENTS:
    fig.add_artist(Line2D([xe, xe], [y_bot, y_top_low], transform=trans, color=col,
                          lw=1.4, zorder=5))

# --- decorative arc at top-left
arc = Arc((428 / 100, (H - 422) / 100), 2 * 431 / 100, 2 * 431 / 100, theta1=95, theta2=174,
          transform=fig.dpi_scale_trans, color="black", lw=1.8)
fig.add_artist(arc)

fig.savefig("out.png", dpi=100, facecolor="white")
